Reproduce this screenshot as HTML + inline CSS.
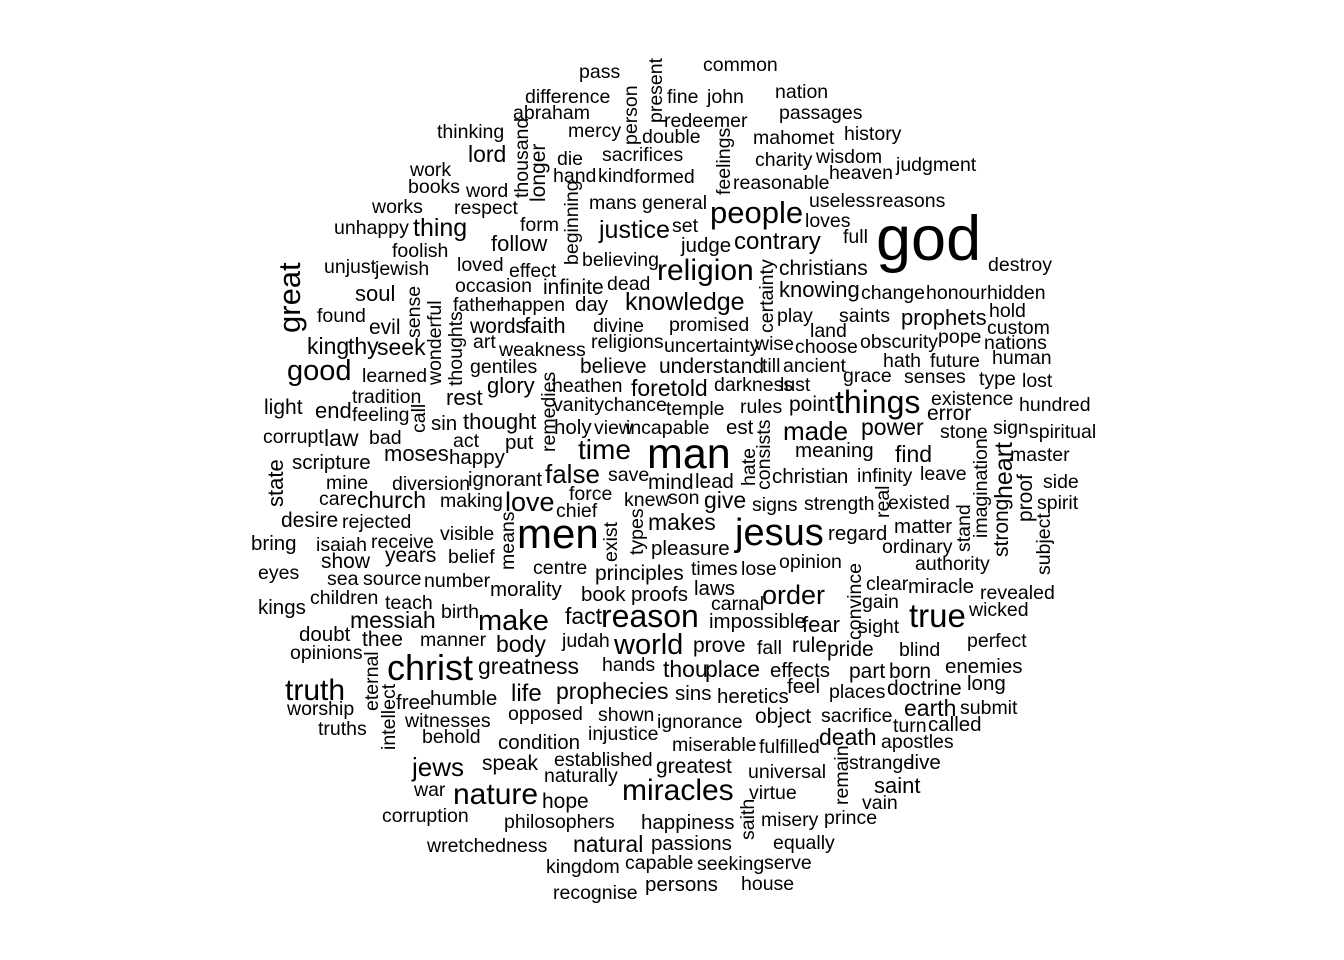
<!DOCTYPE html>
<html><head><meta charset="utf-8">
<style>
html,body{margin:0;padding:0;background:#fff;}
svg{display:block;}
text{font-family:"Liberation Sans",Arial,sans-serif;fill:#000;}
</style></head>
<body>
<svg id="cloud" width="1344" height="960" viewBox="0 0 1344 960" xmlns="http://www.w3.org/2000/svg">
<rect width="1344" height="960" fill="#fff"/>
<g id="words"></g>
</svg>
<script>
// horizontal words: [word, left x, baseline y, font size]
const hWords = [
["pass",579,78,19.5],["common",703,71,19.5],["difference",525,103,19.5],["fine",667,103,19.5],["john",707,103,19.5],
["nation",775,98,19.5],["abraham",513,119,19.5],["redeemer",664,127,19.5],["passages",779,119,19.5],["thinking",437,138,19.5],
["mercy",568,137,19.5],["double",642,143,19.5],["mahomet",753,144,19.5],["history",844,140,19.5],["lord",468,162,23],
["die",557,165,19.5],["sacrifices",602,161,19.5],["charity",755,166,19.5],["wisdom",816,163,19.5],["judgment",896,171,19.5],
["work",410,176,19.5],["hand",553,182,19.5],["kind",598,182,19.5],["formed",634,183,19.5],["reasonable",733,189,19.5],
["heaven",829,179,19.5],["books",408,193,19.5],["word",466,197,19.5],["mans",589,209,19.5],["general",642,209,19.5],
["people",710,223,31],["useless",809,207,19.5],["reasons",876,207,19.5],["works",372,213,19.5],["respect",454,214,19.5],
["loves",805,227,19.5],["god",876,260,63],["unhappy",334,234,19.5],["thing",413,236,25],["form",520,231,19.5],
["justice",599,238,25],["set",672,232,19.5],["follow",491,251,22],["judge",681,252,20.5],["contrary",734,249,24],
["full",843,243,19.5],["foolish",392,257,19.5],["unjust",324,273,19.5],["jewish",375,275,19.5],["loved",457,271,19.5],
["believing",582,266,19.5],["religion",657,280,30],["christians",779,275,21],["destroy",988,271,19.5],["effect",509,277,19.5],
["occasion",455,292,19.5],["infinite",543,294,21],["dead",607,290,19.5],["knowing",779,297,22],["change",861,299,19.5],
["honour",926,299,19.5],["hidden",987,299,19.5],["soul",355,301,22],["father",453,311,19.5],["happen",500,311,19.5],
["day",575,311,20.5],["knowledge",625,310,25],["found",317,322,19.5],["hold",989,317,19.5],["evil",369,334,21],
["words",470,333,21],["faith",524,333,22],["divine",593,332,19.5],["promised",669,331,19.5],["play",777,322,19.5],
["saints",839,322,19.5],["prophets",901,325,22],["custom",987,334,19.5],["land",810,337,19.5],["art",473,348,19.5],
["religions",591,348,19.5],["uncertainty",664,352,19.5],["wise",755,350,19.5],["choose",795,353,19.5],["obscurity",860,348,19.5],
["pope",938,343,19.5],["nations",984,349,19.5],["king",307,354,23],["thy",348,354,23],["seek",377,355,23],
["weakness",499,356,19.5],["good",287,380,29],["gentiles",470,373,19.5],["believe",580,373,21],["understand",659,373,21],
["till",762,372,19.5],["ancient",783,372,19.5],["hath",883,367,19.5],["future",930,367,19.5],["human",992,364,19.5],
["learned",362,382,19.5],["grace",843,382,19.5],["senses",904,383,19.5],["type",979,385,19.5],["lost",1022,387,19.5],
["glory",487,393,22],["heathen",552,392,19.5],["foretold",631,396,23],["darkness",714,391,19.5],["lust",780,391,19.5],
["tradition",352,403,19.5],["rest",446,405,22],["existence",931,405,19.5],["light",264,414,21],["end",315,418,22],
["feeling",352,421,19.5],["vanity",553,411,19.5],["chance",604,411,19.5],["temple",666,415,19.5],["rules",740,413,19.5],
["point",789,411,21],["things",835,413,32],["error",927,420,21],["hundred",1019,411,19.5],["sin",431,430,20.5],
["thought",463,429,22],["holy",554,434,20.5],["view",594,434,19.5],["incapable",626,434,19.5],["est",726,434,20.5],
["made",783,440,26],["power",861,435,23],["stone",940,438,19.5],["sign",993,434,19.5],["spiritual",1029,438,19.5],
["corrupt",263,443,19.5],["law",324,446,23],["bad",369,444,19.5],["act",453,447,19.5],["put",505,449,20.5],
["time",578,459,28],["man",647,468,43],["moses",384,461,22],["happy",449,464,20.5],["meaning",795,457,20.5],
["find",895,462,23],["master",1010,461,19.5],["scripture",292,469,20.5],["false",545,483,26],["save",608,481,19.5],
["christian",772,483,20.5],["infinity",857,482,19.5],["leave",920,480,19.5],["mine",326,489,19.5],["diversion",392,490,19.5],
["ignorant",468,486,20.5],["mind",648,489,21],["lead",695,488,20.5],["side",1043,488,19.5],["force",569,500,19.5],
["care",319,505,19.5],["church",357,508,23],["making",440,507,19.5],["love",505,511,27],["knew",624,506,19.5],
["son",668,504,19.5],["give",704,508,23],["signs",752,511,19.5],["strength",804,510,19.5],["existed",888,509,19.5],
["spirit",1037,509,19.5],["chief",556,517,19.5],["desire",281,527,21],["rejected",342,528,19.5],["men",517,548,42],
["makes",648,530,23],["jesus",735,545,38],["regard",828,540,20.5],["matter",894,533,20.5],["visible",440,540,19.5],
["bring",251,550,20.5],["isaiah",316,551,19.5],["receive",371,548,19.5],["pleasure",651,555,20.5],["ordinary",882,553,19.5],
["years",385,562,21],["belief",448,563,19.5],["show",321,568,21],["centre",533,574,19.5],["principles",595,580,21],
["times",691,575,19.5],["lose",741,575,19.5],["opinion",779,568,19.5],["authority",915,570,19.5],["eyes",258,579,19.5],
["sea",327,585,19.5],["source",363,585,19.5],["number",424,587,19.5],["morality",490,596,20.5],["laws",694,595,20.5],
["clear",866,590,19.5],["miracle",908,593,20.5],["book",581,601,20.5],["proofs",631,601,20.5],["order",762,604,27],
["revealed",980,599,19.5],["kings",258,614,20.5],["children",310,604,19.5],["carnal",711,610,19.5],["gain",862,608,19.5],
["wicked",969,616,19.5],["teach",385,609,19.5],["birth",441,618,19.5],["make",478,630,29],["fact",565,624,23],
["reason",601,627,32],["impossible",709,628,20.5],["fear",802,632,22],["true",909,627,33],["messiah",350,628,23],
["sight",858,633,19.5],["doubt",299,641,20.5],["thee",362,646,21],["manner",420,646,19.5],["body",496,652,23],
["judah",562,647,19.5],["world",614,654,29],["prove",693,652,21],["fall",757,654,19.5],["rule",792,652,21],
["pride",827,656,21],["blind",899,656,19.5],["perfect",967,647,19.5],["opinions",290,659,19.5],["christ",387,680,36],
["greatness",478,674,23],["hands",602,671,19.5],["thou",663,677,23],["place",705,677,23],["effects",770,677,20.5],
["part",849,678,21],["born",889,678,21],["enemies",945,673,20.5],["truth",285,700,30],["free",396,709,20.5],
["humble",430,705,20.5],["life",511,701,24],["prophecies",556,699,23],["sins",675,700,20.5],["heretics",717,703,20.5],
["feel",787,693,20.5],["places",829,698,19.5],["doctrine",887,695,21],["long",967,690,20.5],["worship",287,715,19.5],
["opposed",508,720,19.5],["shown",598,721,19.5],["ignorance",657,728,19.5],["object",755,723,21],["sacrifice",821,722,19.5],
["earth",904,716,23],["submit",960,714,19.5],["witnesses",405,727,19.5],["turn",893,732,19.5],["called",928,731,20.5],
["truths",318,735,19.5],["behold",422,743,19.5],["injustice",588,740,19.5],["condition",498,749,20.5],["miserable",672,751,19.5],
["fulfilled",759,753,19.5],["death",819,745,23],["apostles",881,748,19.5],["jews",412,776,26],["speak",482,770,21],
["established",554,766,19.5],["strange",849,769,19.5],["live",910,769,20.5],["greatest",656,773,21],["naturally",544,782,19.5],
["universal",748,778,19.5],["saint",874,793,22],["war",414,796,19.5],["nature",453,804,30],["hope",542,808,21],
["miracles",622,800,30],["virtue",749,799,19.5],["vain",862,809,19.5],["corruption",382,822,19.5],["philosophers",504,828,19.5],
["happiness",641,829,20.5],["misery",761,826,19.5],["prince",824,824,19.5],["equally",773,849,19.5],["wretchedness",427,852,19.5],
["natural",573,852,23],["passions",651,850,20.5],["kingdom",546,873,19.5],["capable",625,869,19.5],["seeking",697,870,19.5],
["serve",764,869,19.5],["house",741,890,19.5],["persons",645,891,20.5],["recognise",553,899,19.5]
];
// vertical words (rotated -90): [word, baseline x, start y (bottom), font size]
const vWords = [
["present",662,123,19.5],["person",637,145,19.5],["thousand",528,198,19.5],["longer",545,202,21],["feelings",730,195,19.5],
["beginning",578,265,19.5],["certainty",773,333,19.5],["great",300,333,31],["sense",420,338,19.5],["wonderful",441,385,19.5],
["thoughts",462,386,19.5],["remedies",555,452,19.5],["call",425,433,19.5],["consists",770,490,19.5],["imagination",987,538,19.5],
["heart",1012,499,25],["strong",1008,557,21],["hate",755,486,19.5],["state",283,507,22],["proof",1032,522,21],
["real",889,518,19.5],["subject",1050,575,19.5],["exist",617,562,19.5],["types",643,555,19.5],["means",514,570,19.5],
["stand",970,552,19.5],["convince",861,640,19.5],["eternal",378,711,19.5],["intellect",395,750,19.5],["remain",848,805,19.5],
["saith",754,840,19.5]
];
const NS = "http://www.w3.org/2000/svg";
const g = document.getElementById("words");
hWords.forEach(w => {
  const t = document.createElementNS(NS, "text");
  t.setAttribute("x", w[1]);
  t.setAttribute("y", w[2]);
  t.setAttribute("font-size", w[3]);
  t.textContent = w[0];
  
  
  g.appendChild(t);
});
vWords.forEach(w => {
  const t = document.createElementNS(NS, "text");
  t.setAttribute("transform", "translate(" + w[1] + "," + w[2] + ") rotate(-90)");
  t.setAttribute("font-size", w[3]);
  t.textContent = w[0];
  
  
  g.appendChild(t);
});
</script>
</body></html>
